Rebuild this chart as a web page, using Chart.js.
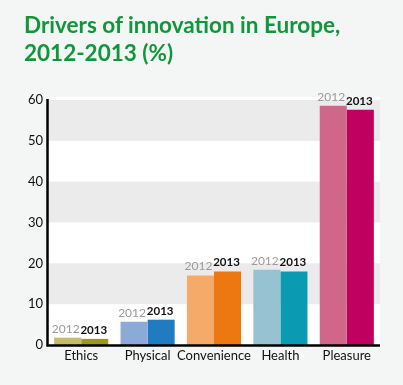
<!DOCTYPE html>
<html><head><meta charset="utf-8">
<script src="https://cdn.jsdelivr.net/npm/chart.js@4/dist/chart.umd.min.js"></script>
<style>
html,body{margin:0;padding:0;background:#f4f5f5;}
#wrap{position:relative;width:403px;height:385px;overflow:hidden;background:#f4f5f5;}
#title{position:absolute;left:24px;top:11px;font:700 22.5px Lato, sans-serif;color:#12963c;line-height:28px;white-space:nowrap;}
canvas{position:absolute;left:0;top:0;}
</style></head><body>
<div id="wrap"><canvas id="c" width="403" height="385"></canvas><div id="title">Drivers of innovation in Europe,<br>2012-2013 (%)</div></div>
<script>
const categories = ['Ethics', 'Physical', 'Convenience', 'Health', 'Pleasure'];
const seriesNames = ['2012', '2013'];
const values2012 = [1.8, 5.7, 17.0, 18.4, 58.6];
const values2013 = [1.5, 6.2, 18.0, 18.0, 57.6];
const colors2012 = ['#c3bd6b', '#8caad7', '#f5aa6a', '#96c2d1', '#d0678a'];
const colors2013 = ['#9c9a12', '#1f7cc0', '#ed7710', '#0a9bb3', '#c0005f'];
const yTicks = [0, 10, 20, 30, 40, 50, 60];
const labelColors = ['#9a9a9a', '#111111'];

const bandsPlugin = {
  id: 'bands',
  beforeDatasetsDraw(chart) {
    const {ctx, chartArea: a, scales: {y}} = chart;
    ctx.save();
    ctx.fillStyle = '#ffffff';
    ctx.fillRect(a.left, a.top - 3, a.right - a.left, a.bottom - a.top + 3);
    ctx.fillStyle = '#ebebeb';
    for (let i = 0; i + 1 < yTicks.length; i++) {
      if ((yTicks.length - 2 - i) % 2 === 0) {
        const y0 = y.getPixelForValue(yTicks[i + 1]);
        const y1 = y.getPixelForValue(yTicks[i]);
        ctx.fillRect(a.left, y0, a.right - a.left, y1 - y0);
      }
    }
    ctx.restore();
  },
  afterDatasetsDraw(chart) {
    const {ctx, chartArea: a} = chart;
    ctx.save();
    ctx.strokeStyle = '#000';
    ctx.lineWidth = 2.5;
    ctx.beginPath();
    ctx.moveTo(a.left - 0.5, a.top - 1);
    ctx.lineTo(a.left - 0.5, a.bottom + 0.5);
    ctx.lineTo(a.right, a.bottom + 0.5);
    ctx.stroke();
    ctx.textAlign = 'center';
    ctx.textBaseline = 'bottom';
    chart.data.datasets.forEach((ds, di) => {
      const meta = chart.getDatasetMeta(di);
      ctx.fillStyle = labelColors[di];
      ctx.font = (di === 0 ? '400 12px' : '700 11.5px') + ' Lato, sans-serif';
      meta.data.forEach(el => {
        ctx.fillText(ds.label, el.x - 1 + (di === 0 ? -1 : 0), el.y - 3);
      });
    });
    ctx.restore();
  }
};

new Chart(document.getElementById('c'), {
  type: 'bar',
  data: {
    labels: categories,
    datasets: [
      {label: seriesNames[0], data: values2012, backgroundColor: colors2012, borderWidth: 0},
      {label: seriesNames[1], data: values2013, backgroundColor: colors2013, borderWidth: 0}
    ]
  },
  options: {
    responsive: false,
    animation: false,
    devicePixelRatio: 1,
    layout: {padding: {left: 24, right: 23, top: 100, bottom: 0}},
    datasets: {bar: {categoryPercentage: 0.815, barPercentage: 1.0}},
    plugins: {legend: {display: false}, tooltip: {enabled: false}, title: {display: false}},
    scales: {
      x: {
        grid: {display: false, drawTicks: false},
        border: {display: false},
        ticks: {font: {family: 'Lato', size: 13}, color: '#111', padding: 3, maxRotation: 0, minRotation: 0, autoSkip: false},
        afterFit(s) { s.height = 40; }
      },
      y: {
        min: 0, max: 60,
        afterBuildTicks(s) { s.ticks = yTicks.map(v => ({value: v})); },
        grid: {display: false, drawTicks: false},
        border: {display: false},
        ticks: {font: {family: 'Lato', size: 13}, color: '#111', padding: 5},
        afterFit(s) { s.width = 24; }
      }
    }
  },
  plugins: [bandsPlugin]
});
</script>
</body></html>
